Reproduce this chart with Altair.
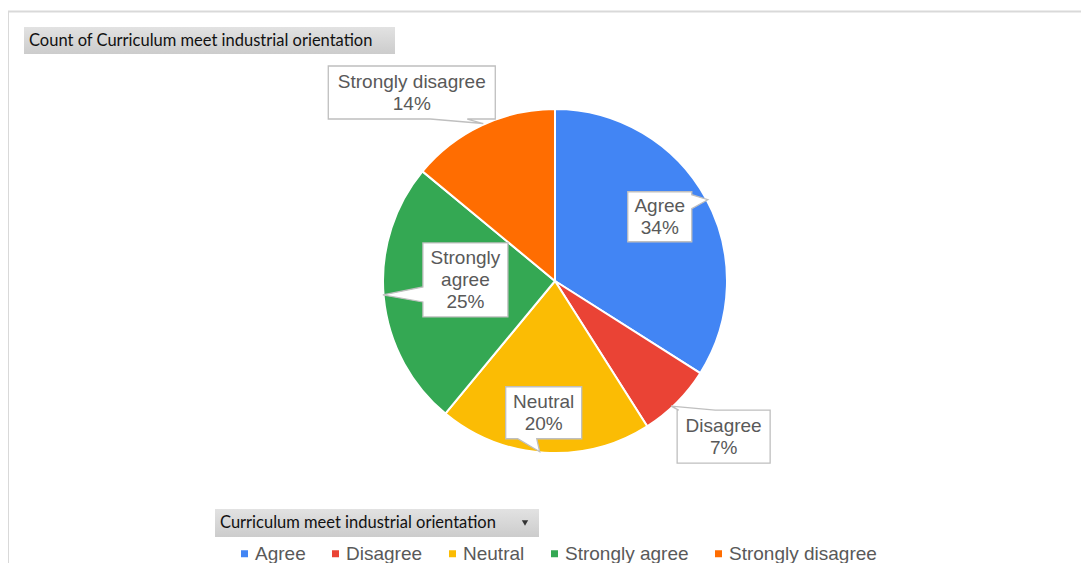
import math
import altair as alt
import pandas as pd

# ---------------- data ----------------
CATEGORIES = ["Agree", "Disagree", "Neutral", "Strongly agree", "Strongly disagree"]
PERCENTS = [34, 7, 20, 25, 14]
COLORS = ["#4285F4", "#EA4335", "#FBBC04", "#34A853", "#FF6D01"]
LABEL_WORDS = ["Agree", "Disagree", "Neutral", "Strongly\nagree", "Strongly disagree"]
TITLE = "Count of Curriculum meet industrial orientation"
FIELD = "Curriculum meet industrial orientation"

# ---------------- style ----------------
W, H = 1073, 555
CX, CY, R = 547, 273, 172
LABEL_R = [123, 230, 132, 90, 226]
LABEL_NUDGE = [(-3, -5), (6, -7), (-3, 0), (0, -9.5), (-47, 16)]
BOX_HALF = [(32, 25), (46.5, 26.5), (38, 26), (42.5, 37), (83.5, 26.5)]
TAILS = [("right", -22, -8, (48, -17)),
         ("top", -45, -8.5, (-52.5, -30.5)),
         ("bottom", -26, -7, (-4, 39)),
         ("left", 7, 22, (-82.5, 15)),
         ("bottom", 18.5, 55.5, (71.5, 31))]
UNIT = 100.0          # symbol size 40000 -> 1 path unit = 100 px
LINE_H = 22
TEXT_COLOR = "#595959"
FONT = "Liberation Sans"
BTN_FONT = "Lato"


def callout_path(hw, hh, side, b1, b2, tip):
    tx, ty = tip
    pts = [(-hw, -hh)]
    if side == "top":
        pts += [(b1, -hh), (tx, ty), (b2, -hh)]
    pts.append((hw, -hh))
    if side == "right":
        pts += [(hw, b1), (tx, ty), (hw, b2)]
    pts.append((hw, hh))
    if side == "bottom":
        pts += [(b2, hh), (tx, ty), (b1, hh)]
    pts.append((-hw, hh))
    if side == "left":
        pts += [(-hw, b2), (tx, ty), (-hw, b1)]
    return "M" + "L".join(f"{x / UNIT:.4f},{y / UNIT:.4f}" for x, y in pts) + "Z"


total = float(sum(PERCENTS))
rows = []
cum = 0.0
for i, (cat, v) in enumerate(zip(CATEGORIES, PERCENTS)):
    mid = (cum + v / 2) / total * 2 * math.pi
    cum += v
    r = LABEL_R[i]
    nx, ny = LABEL_NUDGE[i]
    cx = CX + r * math.sin(mid) + nx
    cy = CY - r * math.cos(mid) + ny
    hw, hh = BOX_HALF[i]
    side, b1, b2, tip = TAILS[i]
    label = f"{LABEL_WORDS[i]}\n{round(v / total * 100)}%"
    nlines = label.count("\n") + 1
    rows.append({
        "category": cat,
        "value": v,
        "idx": i,
        "cx": cx,
        "cy": cy,
        "ty": cy - (nlines - 1) * LINE_H / 2,
        "path": callout_path(hw, hh, side, b1, b2, tip),
        "label": label,
    })
df = pd.DataFrame(rows)
one = pd.DataFrame({"a": [0]})

color_enc = alt.Color(
    "category:N",
    scale=alt.Scale(domain=CATEGORIES, range=COLORS),
    legend=alt.Legend(
        orient="none", legendX=227, legendY=536, direction="horizontal",
        title=None, symbolType="square", symbolSize=49, symbolStrokeWidth=0,
        labelFont=FONT, labelFontSize=19, labelColor=TEXT_COLOR,
        labelOffset=1, columnPadding=20, padding=0,
    ),
)

arcs = alt.Chart(df).mark_arc(outerRadius=R, stroke="white", strokeWidth=2).encode(
    theta=alt.Theta("value:Q", stack=True),
    color=color_enc,
    order=alt.Order("idx:Q"),
    x=alt.value(CX),
    y=alt.value(CY),
)

callouts = alt.Chart(df).mark_point(
    fill="white", stroke="#BFBFBF", strokeWidth=1.3, fillOpacity=1, strokeOpacity=1,
    size=UNIT * UNIT * 4,
).encode(
    x=alt.X("cx:Q", scale=None, axis=None),
    y=alt.Y("cy:Q", scale=None, axis=None),
    shape=alt.Shape("path:N", scale=None, legend=None),
)

callout_text = alt.Chart(df).mark_text(
    font=FONT, fontSize=19, color=TEXT_COLOR, lineBreak="\n", lineHeight=LINE_H,
    align="center", baseline="middle",
).encode(
    x=alt.X("cx:Q", scale=None, axis=None),
    y=alt.Y("ty:Q", scale=None, axis=None),
    text="label:N",
)

border_top = alt.Chart(one).mark_rule(color="#D9D9D9", strokeWidth=2).encode(
    x=alt.value(0), x2=alt.value(W), y=alt.value(3.5), y2=alt.value(3.5))
border_left = alt.Chart(one).mark_rule(color="#D9D9D9", strokeWidth=2).encode(
    x=alt.value(0), x2=alt.value(0), y=alt.value(3), y2=alt.value(H))

grad = alt.LinearGradient(
    gradient="linear", x1=0, y1=0, x2=0, y2=1,
    stops=[alt.GradientStop(color="#e2e2e2", offset=0),
           alt.GradientStop(color="#cccccc", offset=1)],
)

title_rect = alt.Chart(one).mark_rect(fill=grad).encode(
    x=alt.value(16), x2=alt.value(387), y=alt.value(19), y2=alt.value(46))
title_text = alt.Chart(one).mark_text(
    font=BTN_FONT, fontSize=16.5, color="#111111", align="left", baseline="middle",
    text=TITLE).encode(x=alt.value(21), y=alt.value(33))

legend_rect = alt.Chart(one).mark_rect(fill=grad).encode(
    x=alt.value(207), x2=alt.value(531), y=alt.value(501), y2=alt.value(529))
legend_text = alt.Chart(one).mark_text(
    font=BTN_FONT, fontSize=16.5, color="#111111", align="left", baseline="middle",
    text=FIELD).encode(x=alt.value(212), y=alt.value(515))
legend_arrow = alt.Chart(one).mark_point(
    shape="triangle-down", filled=True, color="#333333", size=40, opacity=1).encode(
    x=alt.value(517), y=alt.value(515))

chart = alt.layer(
    border_top, border_left, title_rect, title_text,
    arcs, callouts, callout_text,
    legend_rect, legend_text, legend_arrow,
).properties(
    width=W, height=H, padding=0, autosize="none",
).configure_view(stroke=None)

chart.save("out.html", embed_options={"renderer": "svg", "actions": False})
